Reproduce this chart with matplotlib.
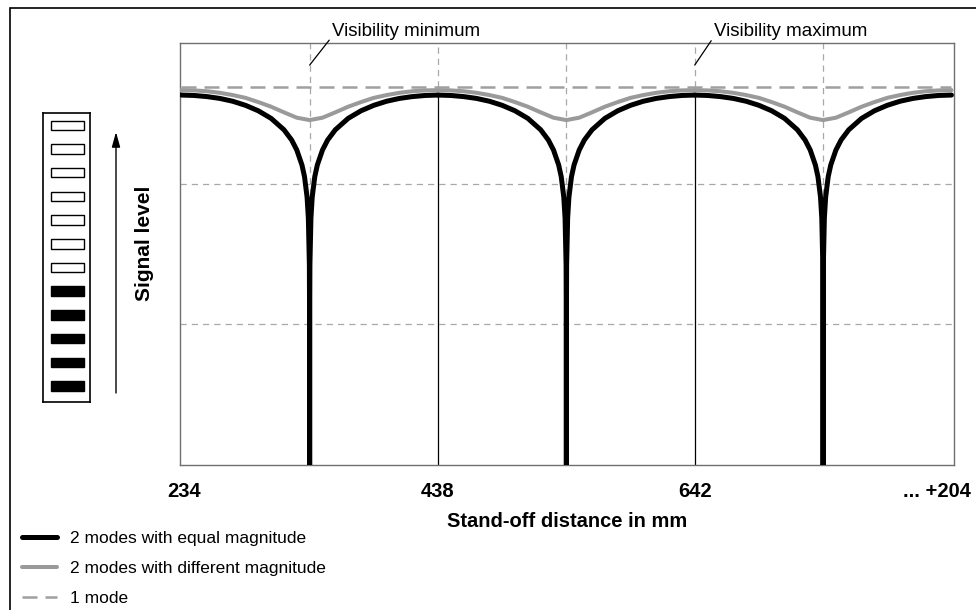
import matplotlib
matplotlib.use("Agg")
import matplotlib.pyplot as plt
from matplotlib.patches import Rectangle
from matplotlib.transforms import ScaledTranslation

plt.rcParams['font.family'] = ['Liberation Sans', 'DejaVu Sans']

# x axis: one unit = one period of the stand-off distance
tick_pos = [0, 1, 2, 3]
tick_labels = ['234', '438', '642', '... +204']
dips = [0.5, 1.5, 2.5]          # visibility minima
inner_peaks = [1, 2]            # visibility maxima inside the plot

# one arch around a dip (signal level, 0..30)
black_off = [-0.5, -0.45, -0.4, -0.35, -0.3, -0.25, -0.2, -0.15, -0.1, -0.07, -0.05,
             -0.03, -0.02, -0.01, -0.005, -0.001, -0.0001, 0,
             0.0001, 0.001, 0.005, 0.01, 0.02, 0.03, 0.05, 0.07, 0.1,
             0.15, 0.2, 0.25, 0.3, 0.35, 0.4, 0.45, 0.5]
black_arch = [26.3, 26.27, 26.19, 26.06, 25.86, 25.57, 25.18, 24.64, 23.83, 23.1, 22.39,
              21.33, 20.5, 19.04, 17.55, 14.2, 9.4, 0,
              9.4, 14.2, 17.55, 19.04, 20.5, 21.33, 22.39, 23.1, 23.83,
              24.64, 25.18, 25.57, 25.86, 26.06, 26.19, 26.27, 26.3]

gray_off = [-0.5, -0.45, -0.4, -0.35, -0.3, -0.25, -0.2, -0.15, -0.1, -0.05, 0,
            0.05, 0.1, 0.15, 0.2, 0.25, 0.3, 0.35, 0.4, 0.45, 0.5]
gray_arch = [26.65, 26.63, 26.57, 26.46, 26.3, 26.1, 25.8, 25.47, 25.07, 24.69, 24.52,
             24.69, 25.07, 25.47, 25.8, 26.1, 26.3, 26.46, 26.57, 26.63, 26.65]

one_mode_x = [0, 3]
one_mode_level = [26.85, 26.85]

h_grid = [10, 20]

# bar indicator on the left, bottom to top (1 = lit)
indicator_on = [1, 1, 1, 1, 1, 0, 0, 0, 0, 0, 0, 0]

legend_labels = ['2 modes with equal magnitude',
                 '2 modes with different magnitude',
                 '1 mode']

W, H = 976, 610
fig = plt.figure(figsize=(W / 100, H / 100), dpi=100)

# outer frame (only left and top edge visible)
fig.add_artist(Rectangle((10 / W, -0.1), 2, 1 - 8 / H + 0.1, transform=fig.transFigure,
                         fill=False, lw=1.2, edgecolor='black'))

ax = fig.add_axes([180 / W, (H - 465) / H, (954 - 180) / W, (465 - 43) / H])
ax.set_xlim(-0.005, 3.01)
ax.set_ylim(0, 30)

grid_c = '#a8a8a8'
for y in h_grid:
    ax.axhline(y, color=grid_c, lw=0.9, ls=(0, (5, 4)), zorder=1)
for x in dips:
    ax.axvline(x, color=grid_c, lw=0.9, ls=(0, (5, 4)), zorder=1)
ax.vlines(inner_peaks, 0, black_arch[0], color='black', lw=0.9, zorder=1)
ax.vlines(inner_peaks, one_mode_level[0], 30, color=grid_c, lw=0.9, ls=(0, (5, 4)), zorder=1)

handles = []
for i, d in enumerate(dips):
    l1, = ax.plot([d + o for o in black_off], black_arch, color='black', lw=3.6,
                  solid_capstyle='round', solid_joinstyle='round', zorder=3)
    l2, = ax.plot([d + o for o in gray_off], gray_arch, color='#9a9a9a', lw=2.9,
                  solid_capstyle='round', zorder=4)
    if i == 0:
        handles += [l1, l2]
l3, = ax.plot(one_mode_x, one_mode_level, color='#a0a0a0', lw=1.8, ls=(0, (6, 3.2)),
              zorder=5, clip_on=False)
handles.append(l3)

for s in ax.spines.values():
    s.set_color('#707070')
    s.set_linewidth(1)

ax.set_yticks([])
ax.set_xticks(tick_pos, tick_labels, fontsize=14.5, fontweight='bold')
ax.tick_params(axis='x', length=0, pad=12)
last = ax.get_xticklabels()[-1]
last.set_transform(last.get_transform() + ScaledTranslation(-0.14, 0, fig.dpi_scale_trans))
first = ax.get_xticklabels()[0]
first.set_transform(first.get_transform() + ScaledTranslation(0.03, 0, fig.dpi_scale_trans))
ax.set_xlabel('Stand-off distance in mm', fontsize=14.5, fontweight='bold', labelpad=8)

# annotations above the plot
ann_line = dict(arrowstyle='-', lw=0.9, color='black', shrinkA=0, shrinkB=0, relpos=(0, 0.2))
ax.annotate('Visibility minimum', xy=(dips[0], 28.43), xytext=(332, H - 40),
            textcoords='figure pixels', ha='left', va='bottom', fontsize=13.5,
            arrowprops=ann_line, annotation_clip=False)
ax.annotate('Visibility maximum', xy=(inner_peaks[1], 28.43), xytext=(714, H - 40),
            textcoords='figure pixels', ha='left', va='bottom', fontsize=13.5,
            arrowprops=ann_line, annotation_clip=False)

# bar indicator
ax_ind = fig.add_axes([43 / W, (H - 402) / H, 47 / W, 289 / H])
ax_ind.set_xlim(0, 1)
ax_ind.set_ylim(-0.675, 11.52)
ax_ind.barh(range(len(indicator_on)), 33 / 47, left=8 / 47, height=0.4,
            color=['black' if v else 'white' for v in indicator_on],
            edgecolor='black', lw=1)
ax_ind.set_xticks([])
ax_ind.set_yticks([])
for s in ax_ind.spines.values():
    s.set_color('black')
    s.set_linewidth(1.2)

# signal level arrow + label
ax.annotate('', xy=(116, H - 132), xycoords='figure pixels',
            xytext=(116, H - 393), textcoords='figure pixels',
            arrowprops=dict(arrowstyle='-|>,head_length=0.9,head_width=0.25', lw=1,
                            color='black', shrinkA=0, shrinkB=0),
            annotation_clip=False)
fig.text(145 / W, 1 - 243 / H, 'Signal level', rotation=90, ha='center', va='center',
         fontsize=15, fontweight='bold')

fig.legend(handles, legend_labels, loc='upper left', bbox_to_anchor=(22 / W, 1 - 531 / H),
           frameon=False, fontsize=12.5, handlelength=2.0, handletextpad=0.75,
           labelspacing=0.84, borderaxespad=0, borderpad=0)

fig.savefig('out.png', dpi=100)
